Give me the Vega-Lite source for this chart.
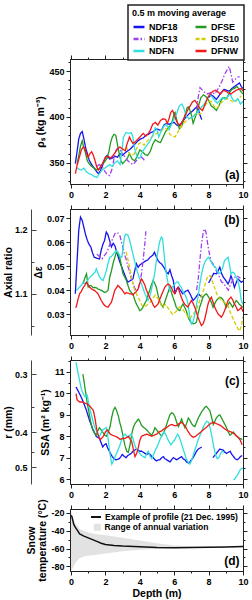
{
"$schema": "https://vega.github.io/schema/vega-lite/v6.json",
"padding": {"left": 2, "top": 3, "right": 5, "bottom": 2},
"config": {
  "view": {"stroke": "#222", "strokeWidth": 1},
  "font": "Liberation Sans",
  "axis": {"labelFont": "Liberation Sans", "labelFontSize": 9, "labelFontWeight": "bold", "labelColor": "#000", "titleFont": "Liberation Sans", "titleFontSize": 10.5, "titleFontWeight": "bold", "titleColor": "#000", "titleLineHeight": 11, "domainColor": "#222", "tickColor": "#222", "grid": false, "labelFlush": false, "labelOverlap": false, "labelPadding": 2, "titlePadding": 3, "minExtent": 0},
  "legend": {"labelFont": "Liberation Sans", "titleFont": "Liberation Sans", "labelFontWeight": "bold", "titleFontWeight": "bold", "labelColor": "#000", "titleColor": "#000", "strokeWidth": 1.5}
},
"datasets": {
"a": [
{"s":"NDF18","d":0.25,"v":349},{"s":"NDF18","d":0.35,"v":362},{"s":"NDF18","d":0.45,"v":376},{"s":"NDF18","d":0.55,"v":382},{"s":"NDF18","d":0.65,"v":384},{"s":"NDF18","d":0.75,"v":376},{"s":"NDF18","d":0.85,"v":366},{"s":"NDF18","d":0.95,"v":360},{"s":"NDF18","d":1.05,"v":353},{"s":"NDF18","d":1.2,"v":348},{"s":"NDF18","d":1.35,"v":344},{"s":"NDF18","d":1.5,"v":340},{"s":"NDF18","d":1.6,"v":338},{"s":"NDF18","d":1.7,"v":341},{"s":"NDF18","d":1.85,"v":348},{"s":"NDF18","d":2.0,"v":356},{"s":"NDF18","d":2.1,"v":358},{"s":"NDF18","d":2.25,"v":354},{"s":"NDF18","d":2.4,"v":355},{"s":"NDF18","d":2.55,"v":357},{"s":"NDF18","d":2.7,"v":356},{"s":"NDF18","d":2.85,"v":360},{"s":"NDF18","d":3.0,"v":358},{"s":"NDF18","d":3.15,"v":361},{"s":"NDF18","d":3.3,"v":363},{"s":"NDF18","d":3.45,"v":365},{"s":"NDF18","d":3.6,"v":368},{"s":"NDF18","d":3.75,"v":371},{"s":"NDF18","d":3.9,"v":374},{"s":"NDF18","d":4.05,"v":376},{"s":"NDF18","d":4.2,"v":377},{"s":"NDF18","d":4.35,"v":380},{"s":"NDF18","d":4.5,"v":381},{"s":"NDF18","d":4.65,"v":383},{"s":"NDF18","d":4.8,"v":384},{"s":"NDF18","d":4.95,"v":387},{"s":"NDF18","d":5.1,"v":386},{"s":"NDF18","d":5.25,"v":385},{"s":"NDF18","d":5.4,"v":391},{"s":"NDF18","d":5.55,"v":393},{"s":"NDF18","d":5.7,"v":392},{"s":"NDF18","d":5.85,"v":393},{"s":"NDF18","d":6.0,"v":394},{"s":"NDF18","d":6.15,"v":391},{"s":"NDF18","d":6.3,"v":390},{"s":"NDF18","d":6.45,"v":394},{"s":"NDF18","d":6.6,"v":398},{"s":"NDF18","d":6.75,"v":401},{"s":"NDF18","d":6.9,"v":404},{"s":"NDF18","d":7.05,"v":406},{"s":"NDF18","d":7.2,"v":409},{"s":"NDF18","d":7.3,"v":411},{"s":"NDF18","d":7.4,"v":408},{"s":"NDF18","d":7.5,"v":402},{"s":"NDF18","d":7.6,"v":397},
{"s":"NDF18","g":2,"d":8.0,"v":421},{"s":"NDF18","g":2,"d":8.15,"v":424},{"s":"NDF18","g":2,"d":8.3,"v":422},{"s":"NDF18","g":2,"d":8.45,"v":419},{"s":"NDF18","g":2,"d":8.6,"v":423},{"s":"NDF18","g":2,"d":8.75,"v":427},{"s":"NDF18","g":2,"d":8.9,"v":430},{"s":"NDF18","g":2,"d":9.05,"v":429},{"s":"NDF18","g":2,"d":9.2,"v":428},{"s":"NDF18","g":2,"d":9.35,"v":431},{"s":"NDF18","g":2,"d":9.5,"v":433},{"s":"NDF18","g":2,"d":9.65,"v":435},{"s":"NDF18","g":2,"d":9.8,"v":437},{"s":"NDF18","g":2,"d":9.9,"v":433},{"s":"NDF18","g":2,"d":10.0,"v":431},
{"s":"DFSE","d":0.35,"v":348},{"s":"DFSE","d":0.45,"v":358},{"s":"DFSE","d":0.55,"v":368},{"s":"DFSE","d":0.65,"v":374},{"s":"DFSE","d":0.75,"v":366},{"s":"DFSE","d":0.85,"v":360},{"s":"DFSE","d":0.95,"v":352},{"s":"DFSE","d":1.05,"v":349},{"s":"DFSE","d":1.2,"v":346},{"s":"DFSE","d":1.35,"v":344},{"s":"DFSE","d":1.5,"v":342},{"s":"DFSE","d":1.65,"v":344},{"s":"DFSE","d":1.8,"v":348},{"s":"DFSE","d":1.95,"v":351},{"s":"DFSE","d":2.1,"v":355},{"s":"DFSE","d":2.2,"v":362},{"s":"DFSE","d":2.3,"v":372},{"s":"DFSE","d":2.4,"v":378},{"s":"DFSE","d":2.5,"v":381},{"s":"DFSE","d":2.6,"v":380},{"s":"DFSE","d":2.7,"v":370},{"s":"DFSE","d":2.8,"v":360},{"s":"DFSE","d":2.9,"v":352},{"s":"DFSE","d":3.0,"v":349},{"s":"DFSE","d":3.1,"v":351},{"s":"DFSE","d":3.25,"v":354},{"s":"DFSE","d":3.4,"v":360},{"s":"DFSE","d":3.55,"v":354},{"s":"DFSE","d":3.7,"v":352},{"s":"DFSE","d":3.85,"v":357},{"s":"DFSE","d":4.0,"v":364},{"s":"DFSE","d":4.15,"v":362},{"s":"DFSE","d":4.3,"v":359},{"s":"DFSE","d":4.45,"v":358},{"s":"DFSE","d":4.6,"v":362},{"s":"DFSE","d":4.75,"v":370},{"s":"DFSE","d":4.9,"v":375},{"s":"DFSE","d":5.05,"v":373},{"s":"DFSE","d":5.2,"v":372},{"s":"DFSE","d":5.35,"v":378},{"s":"DFSE","d":5.5,"v":384},{"s":"DFSE","d":5.65,"v":388},{"s":"DFSE","d":5.8,"v":391},{"s":"DFSE","d":5.9,"v":396},{"s":"DFSE","d":6.0,"v":404},{"s":"DFSE","d":6.05,"v":405},{"s":"DFSE","d":6.15,"v":396},{"s":"DFSE","d":6.3,"v":387},{"s":"DFSE","d":6.45,"v":390},{"s":"DFSE","d":6.6,"v":400},{"s":"DFSE","d":6.75,"v":410},{"s":"DFSE","d":6.85,"v":411},{"s":"DFSE","d":7.0,"v":402},{"s":"DFSE","d":7.1,"v":393},{"s":"DFSE","d":7.25,"v":401},{"s":"DFSE","d":7.4,"v":411},{"s":"DFSE","d":7.55,"v":421},{"s":"DFSE","d":7.7,"v":424},{"s":"DFSE","d":7.85,"v":422},{"s":"DFSE","d":8.0,"v":418},{"s":"DFSE","d":8.15,"v":412},{"s":"DFSE","d":8.3,"v":410},{"s":"DFSE","d":8.45,"v":407},{"s":"DFSE","d":8.6,"v":412},{"s":"DFSE","d":8.75,"v":419},{"s":"DFSE","d":8.9,"v":421},{"s":"DFSE","d":9.05,"v":420},{"s":"DFSE","d":9.2,"v":426},{"s":"DFSE","d":9.35,"v":430},{"s":"DFSE","d":9.5,"v":431},{"s":"DFSE","d":9.65,"v":433},{"s":"DFSE","d":9.8,"v":430},{"s":"DFSE","d":9.9,"v":427},{"s":"DFSE","d":10.0,"v":425},
{"s":"NDF13","d":1.5,"v":346},{"s":"NDF13","d":1.65,"v":348},{"s":"NDF13","d":1.8,"v":346},{"s":"NDF13","d":1.95,"v":341},{"s":"NDF13","d":2.1,"v":337},{"s":"NDF13","d":2.25,"v":336},{"s":"NDF13","d":2.4,"v":344},{"s":"NDF13","d":2.55,"v":360},{"s":"NDF13","d":2.7,"v":367},{"s":"NDF13","d":2.85,"v":365},{"s":"NDF13","d":3.0,"v":359},{"s":"NDF13","d":3.15,"v":356},{"s":"NDF13","d":3.3,"v":352},{"s":"NDF13","d":3.45,"v":350},{"s":"NDF13","d":3.6,"v":348},{"s":"NDF13","d":3.75,"v":351},{"s":"NDF13","d":3.9,"v":355},{"s":"NDF13","d":4.05,"v":357},{"s":"NDF13","d":4.2,"v":354},{"s":"NDF13","d":4.3,"v":352},
{"s":"NDF13","g":2,"d":7.3,"v":408},{"s":"NDF13","g":2,"d":7.4,"v":422},{"s":"NDF13","g":2,"d":7.5,"v":432},{"s":"NDF13","g":2,"d":7.6,"v":430},{"s":"NDF13","g":2,"d":7.75,"v":427},{"s":"NDF13","g":2,"d":7.9,"v":425},{"s":"NDF13","g":2,"d":8.05,"v":426},{"s":"NDF13","g":2,"d":8.2,"v":427},{"s":"NDF13","g":2,"d":8.35,"v":425},{"s":"NDF13","g":2,"d":8.5,"v":429},{"s":"NDF13","g":2,"d":8.65,"v":434},{"s":"NDF13","g":2,"d":8.8,"v":440},{"s":"NDF13","g":2,"d":8.95,"v":447},{"s":"NDF13","g":2,"d":9.1,"v":452},{"s":"NDF13","g":2,"d":9.2,"v":455},{"s":"NDF13","g":2,"d":9.3,"v":447},{"s":"NDF13","g":2,"d":9.4,"v":438},{"s":"NDF13","g":2,"d":9.5,"v":440},{"s":"NDF13","g":2,"d":9.65,"v":443},{"s":"NDF13","g":2,"d":9.8,"v":444},
{"s":"DFS10","d":3.2,"v":368},{"s":"DFS10","d":3.35,"v":361},{"s":"DFS10","d":3.5,"v":358},{"s":"DFS10","d":3.65,"v":359},{"s":"DFS10","d":3.8,"v":365},{"s":"DFS10","d":3.95,"v":371},{"s":"DFS10","d":4.1,"v":372},{"s":"DFS10","d":4.25,"v":369},{"s":"DFS10","d":4.4,"v":373},{"s":"DFS10","d":4.55,"v":376},{"s":"DFS10","d":4.7,"v":378},{"s":"DFS10","d":4.85,"v":381},{"s":"DFS10","d":5.0,"v":382},{"s":"DFS10","d":5.15,"v":384},{"s":"DFS10","d":5.3,"v":386},{"s":"DFS10","d":5.45,"v":388},{"s":"DFS10","d":5.6,"v":386},{"s":"DFS10","d":5.75,"v":381},{"s":"DFS10","d":5.9,"v":379},{"s":"DFS10","d":6.05,"v":378},{"s":"DFS10","d":6.2,"v":383},{"s":"DFS10","d":6.35,"v":388},{"s":"DFS10","d":6.5,"v":392},{"s":"DFS10","d":6.65,"v":395},{"s":"DFS10","d":6.8,"v":397},{"s":"DFS10","d":6.95,"v":399},{"s":"DFS10","d":7.1,"v":400},{"s":"DFS10","d":7.25,"v":404},{"s":"DFS10","d":7.4,"v":403},{"s":"DFS10","d":7.55,"v":404},{"s":"DFS10","d":7.7,"v":410},{"s":"DFS10","d":7.85,"v":414},{"s":"DFS10","d":8.0,"v":417},{"s":"DFS10","d":8.15,"v":417},{"s":"DFS10","d":8.3,"v":412},{"s":"DFS10","d":8.45,"v":409},{"s":"DFS10","d":8.6,"v":412},{"s":"DFS10","d":8.75,"v":416},{"s":"DFS10","d":8.9,"v":418},{"s":"DFS10","d":9.05,"v":420},{"s":"DFS10","d":9.2,"v":419},{"s":"DFS10","d":9.35,"v":417},{"s":"DFS10","d":9.5,"v":416},{"s":"DFS10","d":9.65,"v":418},{"s":"DFS10","d":9.8,"v":421},{"s":"DFS10","d":9.9,"v":423},
{"s":"NDFN","d":0.3,"v":345},{"s":"NDFN","d":0.45,"v":343},{"s":"NDFN","d":0.6,"v":342},{"s":"NDFN","d":0.75,"v":344},{"s":"NDFN","d":0.9,"v":340},{"s":"NDFN","d":1.05,"v":338},{"s":"NDFN","d":1.2,"v":337},{"s":"NDFN","d":1.35,"v":335},{"s":"NDFN","d":1.5,"v":334},{"s":"NDFN","d":1.65,"v":338},{"s":"NDFN","d":1.8,"v":342},{"s":"NDFN","d":1.95,"v":344},{"s":"NDFN","d":2.1,"v":346},{"s":"NDFN","d":2.25,"v":348},{"s":"NDFN","d":2.4,"v":346},{"s":"NDFN","d":2.55,"v":350},{"s":"NDFN","d":2.7,"v":352},{"s":"NDFN","d":2.85,"v":348},{"s":"NDFN","d":2.95,"v":362},{"s":"NDFN","d":3.05,"v":378},{"s":"NDFN","d":3.2,"v":383},{"s":"NDFN","d":3.35,"v":382},{"s":"NDFN","d":3.5,"v":383},{"s":"NDFN","d":3.6,"v":378},{"s":"NDFN","d":3.7,"v":365},{"s":"NDFN","d":3.85,"v":356},{"s":"NDFN","d":4.0,"v":355},{"s":"NDFN","d":4.15,"v":362},{"s":"NDFN","d":4.3,"v":366},{"s":"NDFN","d":4.45,"v":370},{"s":"NDFN","d":4.6,"v":374},{"s":"NDFN","d":4.75,"v":380},{"s":"NDFN","d":4.9,"v":388},{"s":"NDFN","d":5.0,"v":386},{"s":"NDFN","d":5.1,"v":378},{"s":"NDFN","d":5.25,"v":385},{"s":"NDFN","d":5.4,"v":390},{"s":"NDFN","d":5.55,"v":392},{"s":"NDFN","d":5.7,"v":386},{"s":"NDFN","d":5.85,"v":392},{"s":"NDFN","d":6.0,"v":398},{"s":"NDFN","d":6.15,"v":404},{"s":"NDFN","d":6.3,"v":412},{"s":"NDFN","d":6.45,"v":414},{"s":"NDFN","d":6.55,"v":410},{"s":"NDFN","d":6.7,"v":401},{"s":"NDFN","d":6.85,"v":398},{"s":"NDFN","d":7.0,"v":399},{"s":"NDFN","d":7.15,"v":401},{"s":"NDFN","d":7.3,"v":404},{"s":"NDFN","d":7.45,"v":407},{"s":"NDFN","d":7.6,"v":411},{"s":"NDFN","d":7.75,"v":414},{"s":"NDFN","d":7.9,"v":419},{"s":"NDFN","d":8.05,"v":424},{"s":"NDFN","d":8.2,"v":422},{"s":"NDFN","d":8.35,"v":418},{"s":"NDFN","d":8.5,"v":415},{"s":"NDFN","d":8.65,"v":418},{"s":"NDFN","d":8.8,"v":421},{"s":"NDFN","d":8.95,"v":419},{"s":"NDFN","d":9.1,"v":422},{"s":"NDFN","d":9.25,"v":425},{"s":"NDFN","d":9.4,"v":419},{"s":"NDFN","d":9.55,"v":417},{"s":"NDFN","d":9.7,"v":420},{"s":"NDFN","d":9.85,"v":414},{"s":"NDFN","d":10.0,"v":417},
{"s":"DFNW","d":0.25,"v":338},{"s":"DFNW","d":0.35,"v":347},{"s":"DFNW","d":0.5,"v":357},{"s":"DFNW","d":0.6,"v":364},{"s":"DFNW","d":0.7,"v":367},{"s":"DFNW","d":0.8,"v":366},{"s":"DFNW","d":0.9,"v":360},{"s":"DFNW","d":1.0,"v":356},{"s":"DFNW","d":1.1,"v":360},{"s":"DFNW","d":1.2,"v":362},{"s":"DFNW","d":1.3,"v":358},{"s":"DFNW","d":1.4,"v":352},{"s":"DFNW","d":1.5,"v":345},{"s":"DFNW","d":1.6,"v":342},{"s":"DFNW","d":1.75,"v":346},{"s":"DFNW","d":1.9,"v":352},{"s":"DFNW","d":2.0,"v":356},{"s":"DFNW","d":2.15,"v":357},{"s":"DFNW","d":2.3,"v":355},{"s":"DFNW","d":2.45,"v":358},{"s":"DFNW","d":2.6,"v":362},{"s":"DFNW","d":2.75,"v":366},{"s":"DFNW","d":2.85,"v":367},{"s":"DFNW","d":3.0,"v":365},{"s":"DFNW","d":3.15,"v":363},{"s":"DFNW","d":3.25,"v":370},{"s":"DFNW","d":3.4,"v":378},{"s":"DFNW","d":3.5,"v":374},{"s":"DFNW","d":3.6,"v":371},{"s":"DFNW","d":3.75,"v":373},{"s":"DFNW","d":3.9,"v":376},{"s":"DFNW","d":4.05,"v":379},{"s":"DFNW","d":4.2,"v":382},{"s":"DFNW","d":4.35,"v":379},{"s":"DFNW","d":4.5,"v":382},{"s":"DFNW","d":4.6,"v":385},{"s":"DFNW","d":4.75,"v":392},{"s":"DFNW","d":4.9,"v":394},{"s":"DFNW","d":5.05,"v":391},{"s":"DFNW","d":5.2,"v":396},{"s":"DFNW","d":5.35,"v":398},{"s":"DFNW","d":5.5,"v":397},{"s":"DFNW","d":5.6,"v":393},{"s":"DFNW","d":5.7,"v":398},{"s":"DFNW","d":5.8,"v":405},{"s":"DFNW","d":5.9,"v":407},{"s":"DFNW","d":6.0,"v":403},{"s":"DFNW","d":6.1,"v":397},{"s":"DFNW","d":6.2,"v":393},{"s":"DFNW","d":6.35,"v":391},{"s":"DFNW","d":6.5,"v":396},{"s":"DFNW","d":6.65,"v":402},{"s":"DFNW","d":6.8,"v":408},{"s":"DFNW","d":6.9,"v":411},{"s":"DFNW","d":7.05,"v":416},{"s":"DFNW","d":7.2,"v":418},{"s":"DFNW","d":7.35,"v":414},{"s":"DFNW","d":7.5,"v":409},{"s":"DFNW","d":7.65,"v":407},{"s":"DFNW","d":7.8,"v":414},{"s":"DFNW","d":7.95,"v":421},{"s":"DFNW","d":8.1,"v":425},{"s":"DFNW","d":8.25,"v":428},{"s":"DFNW","d":8.4,"v":429},{"s":"DFNW","d":8.55,"v":427},{"s":"DFNW","d":8.7,"v":425},{"s":"DFNW","d":8.85,"v":429},{"s":"DFNW","d":9.0,"v":428},{"s":"DFNW","d":9.15,"v":426},{"s":"DFNW","d":9.3,"v":425},{"s":"DFNW","d":9.45,"v":427},{"s":"DFNW","d":9.6,"v":429},{"s":"DFNW","d":9.75,"v":430},{"s":"DFNW","d":9.9,"v":431},{"s":"DFNW","d":10.0,"v":428}
],
"b": [
{"s":"NDF18","d":0.25,"v":0.0385},{"s":"NDF18","d":0.35,"v":0.052},{"s":"NDF18","d":0.45,"v":0.065},{"s":"NDF18","d":0.55,"v":0.0704},{"s":"NDF18","d":0.65,"v":0.069},{"s":"NDF18","d":0.75,"v":0.066},{"s":"NDF18","d":0.85,"v":0.063},{"s":"NDF18","d":0.95,"v":0.0607},{"s":"NDF18","d":1.05,"v":0.059},{"s":"NDF18","d":1.15,"v":0.058},{"s":"NDF18","d":1.25,"v":0.0555},{"s":"NDF18","d":1.35,"v":0.0537},{"s":"NDF18","d":1.5,"v":0.0533},{"s":"NDF18","d":1.65,"v":0.053},{"s":"NDF18","d":1.75,"v":0.0565},{"s":"NDF18","d":1.85,"v":0.059},{"s":"NDF18","d":1.95,"v":0.0607},{"s":"NDF18","d":2.05,"v":0.0642},{"s":"NDF18","d":2.15,"v":0.063},{"s":"NDF18","d":2.25,"v":0.0605},{"s":"NDF18","d":2.35,"v":0.058},{"s":"NDF18","d":2.45,"v":0.0595},{"s":"NDF18","d":2.55,"v":0.0585},{"s":"NDF18","d":2.65,"v":0.056},{"s":"NDF18","d":2.75,"v":0.0537},{"s":"NDF18","d":2.85,"v":0.0515},{"s":"NDF18","d":2.95,"v":0.0496},{"s":"NDF18","d":3.1,"v":0.0468},{"s":"NDF18","d":3.2,"v":0.045},{"s":"NDF18","d":3.3,"v":0.0433},{"s":"NDF18","d":3.45,"v":0.044},{"s":"NDF18","d":3.6,"v":0.0447},{"s":"NDF18","d":3.7,"v":0.048},{"s":"NDF18","d":3.8,"v":0.051},{"s":"NDF18","d":3.9,"v":0.0495},{"s":"NDF18","d":4.0,"v":0.0505},{"s":"NDF18","d":4.1,"v":0.051},{"s":"NDF18","d":4.2,"v":0.0515},{"s":"NDF18","d":4.3,"v":0.052},{"s":"NDF18","d":4.45,"v":0.0525},{"s":"NDF18","d":4.6,"v":0.0537},{"s":"NDF18","d":4.75,"v":0.0545},{"s":"NDF18","d":4.85,"v":0.0558},{"s":"NDF18","d":4.95,"v":0.054},{"s":"NDF18","d":5.05,"v":0.0524},{"s":"NDF18","d":5.15,"v":0.0515},{"s":"NDF18","d":5.25,"v":0.051},{"s":"NDF18","d":5.35,"v":0.05},{"s":"NDF18","d":5.45,"v":0.0489},{"s":"NDF18","d":5.55,"v":0.0475},{"s":"NDF18","d":5.65,"v":0.0468},{"s":"NDF18","d":5.75,"v":0.0485},{"s":"NDF18","d":5.85,"v":0.046},{"s":"NDF18","d":5.95,"v":0.044},{"s":"NDF18","d":6.05,"v":0.0385},{"s":"NDF18","d":6.15,"v":0.0405},{"s":"NDF18","d":6.25,"v":0.0412},{"s":"NDF18","d":6.35,"v":0.04},{"s":"NDF18","d":6.5,"v":0.0385},{"s":"NDF18","d":6.65,"v":0.0395},{"s":"NDF18","d":6.8,"v":0.04},{"s":"NDF18","d":6.95,"v":0.038},{"s":"NDF18","d":7.1,"v":0.0357},{"s":"NDF18","d":7.25,"v":0.037},{"s":"NDF18","d":7.4,"v":0.0385},{"s":"NDF18","d":7.55,"v":0.0375},{"s":"NDF18","d":7.65,"v":0.037},
{"s":"NDF18","g":2,"d":8.0,"v":0.043},{"s":"NDF18","g":2,"d":8.15,"v":0.045},{"s":"NDF18","g":2,"d":8.3,"v":0.047},{"s":"NDF18","g":2,"d":8.45,"v":0.0468},{"s":"NDF18","g":2,"d":8.55,"v":0.048},{"s":"NDF18","g":2,"d":8.65,"v":0.0496},{"s":"NDF18","g":2,"d":8.75,"v":0.047},{"s":"NDF18","g":2,"d":8.85,"v":0.0455},{"s":"NDF18","g":2,"d":9.0,"v":0.044},{"s":"NDF18","g":2,"d":9.13,"v":0.0426},{"s":"NDF18","g":2,"d":9.22,"v":0.044},{"s":"NDF18","g":2,"d":9.3,"v":0.046},{"s":"NDF18","g":2,"d":9.4,"v":0.044},{"s":"NDF18","g":2,"d":9.5,"v":0.0412},{"s":"NDF18","g":2,"d":9.6,"v":0.043},{"s":"NDF18","g":2,"d":9.7,"v":0.0447},{"s":"NDF18","g":2,"d":9.8,"v":0.044},{"s":"NDF18","g":2,"d":9.9,"v":0.0433},{"s":"NDF18","g":2,"d":10.0,"v":0.0438},
{"s":"DFSE","d":0.7,"v":0.0426},{"s":"DFSE","d":0.8,"v":0.045},{"s":"DFSE","d":0.9,"v":0.0468},{"s":"DFSE","d":1.0,"v":0.0413},{"s":"DFSE","d":1.09,"v":0.042},{"s":"DFSE","d":1.18,"v":0.0418},{"s":"DFSE","d":1.28,"v":0.041},{"s":"DFSE","d":1.37,"v":0.0412},{"s":"DFSE","d":1.47,"v":0.041},{"s":"DFSE","d":1.57,"v":0.0405},{"s":"DFSE","d":1.67,"v":0.0402},{"s":"DFSE","d":1.76,"v":0.0399},{"s":"DFSE","d":1.86,"v":0.0395},{"s":"DFSE","d":1.96,"v":0.039},{"s":"DFSE","d":2.05,"v":0.0393},{"s":"DFSE","d":2.15,"v":0.0399},{"s":"DFSE","d":2.25,"v":0.0454},{"s":"DFSE","d":2.35,"v":0.048},{"s":"DFSE","d":2.44,"v":0.051},{"s":"DFSE","d":2.54,"v":0.0535},{"s":"DFSE","d":2.64,"v":0.0558},{"s":"DFSE","d":2.73,"v":0.055},{"s":"DFSE","d":2.83,"v":0.0537},{"s":"DFSE","d":2.93,"v":0.05},{"s":"DFSE","d":3.02,"v":0.0468},{"s":"DFSE","d":3.12,"v":0.0455},{"s":"DFSE","d":3.22,"v":0.044},{"s":"DFSE","d":3.31,"v":0.042},{"s":"DFSE","d":3.41,"v":0.0399},{"s":"DFSE","d":3.5,"v":0.039},{"s":"DFSE","d":3.6,"v":0.0385},{"s":"DFSE","d":3.7,"v":0.036},{"s":"DFSE","d":3.8,"v":0.0343},{"s":"DFSE","d":3.9,"v":0.033},{"s":"DFSE","d":4.0,"v":0.0315},{"s":"DFSE","d":4.1,"v":0.032},{"s":"DFSE","d":4.19,"v":0.033},{"s":"DFSE","d":4.29,"v":0.0345},{"s":"DFSE","d":4.38,"v":0.0357},{"s":"DFSE","d":4.48,"v":0.038},{"s":"DFSE","d":4.57,"v":0.0399},{"s":"DFSE","d":4.67,"v":0.042},{"s":"DFSE","d":4.77,"v":0.044},{"s":"DFSE","d":4.86,"v":0.043},{"s":"DFSE","d":4.96,"v":0.0412},{"s":"DFSE","d":5.06,"v":0.038},{"s":"DFSE","d":5.15,"v":0.0357},{"s":"DFSE","d":5.25,"v":0.034},{"s":"DFSE","d":5.35,"v":0.0329},{"s":"DFSE","d":5.45,"v":0.035},{"s":"DFSE","d":5.54,"v":0.037},{"s":"DFSE","d":5.64,"v":0.039},{"s":"DFSE","d":5.74,"v":0.0412},{"s":"DFSE","d":5.84,"v":0.039},{"s":"DFSE","d":5.93,"v":0.037},{"s":"DFSE","d":6.03,"v":0.035},{"s":"DFSE","d":6.12,"v":0.0329},{"s":"DFSE","d":6.22,"v":0.032},{"s":"DFSE","d":6.32,"v":0.0315},{"s":"DFSE","d":6.41,"v":0.033},{"s":"DFSE","d":6.51,"v":0.0343},{"s":"DFSE","d":6.6,"v":0.033},{"s":"DFSE","d":6.7,"v":0.0315},{"s":"DFSE","d":6.8,"v":0.029},{"s":"DFSE","d":6.9,"v":0.0274},{"s":"DFSE","d":7.0,"v":0.0265},{"s":"DFSE","d":7.1,"v":0.026},{"s":"DFSE","d":7.2,"v":0.0262},{"s":"DFSE","d":7.29,"v":0.0267},{"s":"DFSE","d":7.38,"v":0.03},{"s":"DFSE","d":7.48,"v":0.0329},{"s":"DFSE","d":7.58,"v":0.035},{"s":"DFSE","d":7.67,"v":0.0371},{"s":"DFSE","d":7.77,"v":0.038},{"s":"DFSE","d":7.87,"v":0.0385},{"s":"DFSE","d":7.97,"v":0.0375},{"s":"DFSE","d":8.06,"v":0.0364},{"s":"DFSE","d":8.16,"v":0.035},{"s":"DFSE","d":8.26,"v":0.0329},{"s":"DFSE","d":8.35,"v":0.0343},{"s":"DFSE","d":8.45,"v":0.0357},{"s":"DFSE","d":8.55,"v":0.0365},{"s":"DFSE","d":8.64,"v":0.0371},{"s":"DFSE","d":8.74,"v":0.0368},{"s":"DFSE","d":8.84,"v":0.036},{"s":"DFSE","d":8.93,"v":0.0345},{"s":"DFSE","d":9.03,"v":0.0329},{"s":"DFSE","d":9.13,"v":0.034},{"s":"DFSE","d":9.22,"v":0.035},{"s":"DFSE","d":9.31,"v":0.034},{"s":"DFSE","d":9.4,"v":0.0329},{"s":"DFSE","d":9.5,"v":0.0343},{"s":"DFSE","d":9.6,"v":0.0357},{"s":"DFSE","d":9.7,"v":0.035},{"s":"DFSE","d":9.8,"v":0.034},{"s":"DFSE","d":9.9,"v":0.0335},{"s":"DFSE","d":10.0,"v":0.0329},
{"s":"NDF13","d":1.5,"v":0.055},{"s":"NDF13","d":1.65,"v":0.054},{"s":"NDF13","d":1.8,"v":0.053},{"s":"NDF13","d":1.95,"v":0.0545},{"s":"NDF13","d":2.1,"v":0.056},{"s":"NDF13","d":2.25,"v":0.059},{"s":"NDF13","d":2.4,"v":0.061},{"s":"NDF13","d":2.55,"v":0.0635},{"s":"NDF13","d":2.7,"v":0.064},{"s":"NDF13","d":2.85,"v":0.0625},{"s":"NDF13","d":3.0,"v":0.058},{"s":"NDF13","d":3.1,"v":0.055},{"s":"NDF13","d":3.2,"v":0.053},{"s":"NDF13","d":3.3,"v":0.05},{"s":"NDF13","d":3.4,"v":0.048},{"s":"NDF13","d":3.5,"v":0.045},{"s":"NDF13","d":3.6,"v":0.043},{"s":"NDF13","d":3.7,"v":0.041},{"s":"NDF13","d":3.8,"v":0.0395},{"s":"NDF13","d":3.9,"v":0.0405},{"s":"NDF13","d":4.0,"v":0.043},{"s":"NDF13","d":4.1,"v":0.047},{"s":"NDF13","d":4.2,"v":0.053},{"s":"NDF13","d":4.3,"v":0.06},{"s":"NDF13","d":4.35,"v":0.0645},
{"s":"NDF13","g":2,"d":7.3,"v":0.04},{"s":"NDF13","g":2,"d":7.4,"v":0.045},{"s":"NDF13","g":2,"d":7.5,"v":0.053},{"s":"NDF13","g":2,"d":7.6,"v":0.06},{"s":"NDF13","g":2,"d":7.7,"v":0.0645},{"s":"NDF13","g":2,"d":7.78,"v":0.0655},{"s":"NDF13","g":2,"d":7.85,"v":0.064},{"s":"NDF13","g":2,"d":7.95,"v":0.059},{"s":"NDF13","g":2,"d":8.05,"v":0.055},{"s":"NDF13","g":2,"d":8.15,"v":0.052},{"s":"NDF13","g":2,"d":8.25,"v":0.051},{"s":"NDF13","g":2,"d":8.35,"v":0.05},{"s":"NDF13","g":2,"d":8.45,"v":0.048},{"s":"NDF13","g":2,"d":8.55,"v":0.047},{"s":"NDF13","g":2,"d":8.65,"v":0.045},{"s":"NDF13","g":2,"d":8.75,"v":0.0435},{"s":"NDF13","g":2,"d":8.85,"v":0.043},{"s":"NDF13","g":2,"d":8.95,"v":0.042},{"s":"NDF13","g":2,"d":9.05,"v":0.041},{"s":"NDF13","g":2,"d":9.15,"v":0.04},{"s":"NDF13","g":2,"d":9.25,"v":0.042},{"s":"NDF13","g":2,"d":9.35,"v":0.0435},{"s":"NDF13","g":2,"d":9.45,"v":0.045},{"s":"NDF13","g":2,"d":9.55,"v":0.0455},{"s":"NDF13","g":2,"d":9.65,"v":0.046},{"s":"NDF13","g":2,"d":9.75,"v":0.0455},{"s":"NDF13","g":2,"d":9.85,"v":0.045},
{"s":"DFS10","d":3.2,"v":0.056},{"s":"DFS10","d":3.3,"v":0.053},{"s":"DFS10","d":3.4,"v":0.0496},{"s":"DFS10","d":3.5,"v":0.046},{"s":"DFS10","d":3.6,"v":0.0426},{"s":"DFS10","d":3.7,"v":0.04},{"s":"DFS10","d":3.8,"v":0.0385},{"s":"DFS10","d":3.9,"v":0.037},{"s":"DFS10","d":4.0,"v":0.0357},{"s":"DFS10","d":4.1,"v":0.034},{"s":"DFS10","d":4.2,"v":0.033},{"s":"DFS10","d":4.35,"v":0.0335},{"s":"DFS10","d":4.5,"v":0.0343},{"s":"DFS10","d":4.6,"v":0.035},{"s":"DFS10","d":4.7,"v":0.036},{"s":"DFS10","d":4.8,"v":0.037},{"s":"DFS10","d":4.9,"v":0.038},{"s":"DFS10","d":5.0,"v":0.037},{"s":"DFS10","d":5.1,"v":0.036},{"s":"DFS10","d":5.2,"v":0.0345},{"s":"DFS10","d":5.3,"v":0.033},{"s":"DFS10","d":5.4,"v":0.0335},{"s":"DFS10","d":5.5,"v":0.034},{"s":"DFS10","d":5.6,"v":0.033},{"s":"DFS10","d":5.7,"v":0.032},{"s":"DFS10","d":5.8,"v":0.031},{"s":"DFS10","d":5.9,"v":0.03},{"s":"DFS10","d":6.0,"v":0.0305},{"s":"DFS10","d":6.1,"v":0.031},{"s":"DFS10","d":6.2,"v":0.032},{"s":"DFS10","d":6.3,"v":0.033},{"s":"DFS10","d":6.4,"v":0.0325},{"s":"DFS10","d":6.5,"v":0.032},{"s":"DFS10","d":6.6,"v":0.031},{"s":"DFS10","d":6.7,"v":0.03},{"s":"DFS10","d":6.8,"v":0.029},{"s":"DFS10","d":6.9,"v":0.028},{"s":"DFS10","d":7.0,"v":0.029},{"s":"DFS10","d":7.1,"v":0.03},{"s":"DFS10","d":7.2,"v":0.031},{"s":"DFS10","d":7.3,"v":0.032},{"s":"DFS10","d":7.4,"v":0.034},{"s":"DFS10","d":7.5,"v":0.036},{"s":"DFS10","d":7.6,"v":0.038},{"s":"DFS10","d":7.7,"v":0.04},{"s":"DFS10","d":7.8,"v":0.0425},{"s":"DFS10","d":7.9,"v":0.045},{"s":"DFS10","d":8.0,"v":0.046},{"s":"DFS10","d":8.1,"v":0.046},{"s":"DFS10","d":8.2,"v":0.044},{"s":"DFS10","d":8.3,"v":0.042},{"s":"DFS10","d":8.4,"v":0.04},{"s":"DFS10","d":8.5,"v":0.038},{"s":"DFS10","d":8.6,"v":0.037},{"s":"DFS10","d":8.7,"v":0.036},{"s":"DFS10","d":8.8,"v":0.0355},{"s":"DFS10","d":8.9,"v":0.035},{"s":"DFS10","d":9.0,"v":0.0345},{"s":"DFS10","d":9.1,"v":0.034},{"s":"DFS10","d":9.2,"v":0.032},{"s":"DFS10","d":9.3,"v":0.03},{"s":"DFS10","d":9.4,"v":0.0285},{"s":"DFS10","d":9.5,"v":0.027},{"s":"DFS10","d":9.6,"v":0.0255},{"s":"DFS10","d":9.7,"v":0.024},{"s":"DFS10","d":9.8,"v":0.023},{"s":"DFS10","d":9.9,"v":0.025},{"s":"DFS10","d":10.0,"v":0.029},
{"s":"NDFN","d":0.3,"v":0.0399},{"s":"NDFN","d":0.4,"v":0.0405},{"s":"NDFN","d":0.5,"v":0.0413},{"s":"NDFN","d":0.6,"v":0.042},{"s":"NDFN","d":0.7,"v":0.0433},{"s":"NDFN","d":0.8,"v":0.0428},{"s":"NDFN","d":0.9,"v":0.043},{"s":"NDFN","d":1.0,"v":0.0445},{"s":"NDFN","d":1.1,"v":0.0454},{"s":"NDFN","d":1.2,"v":0.046},{"s":"NDFN","d":1.3,"v":0.0468},{"s":"NDFN","d":1.4,"v":0.0475},{"s":"NDFN","d":1.47,"v":0.0489},{"s":"NDFN","d":1.57,"v":0.047},{"s":"NDFN","d":1.67,"v":0.0454},{"s":"NDFN","d":1.77,"v":0.0445},{"s":"NDFN","d":1.86,"v":0.044},{"s":"NDFN","d":1.96,"v":0.046},{"s":"NDFN","d":2.05,"v":0.048},{"s":"NDFN","d":2.15,"v":0.051},{"s":"NDFN","d":2.25,"v":0.0537},{"s":"NDFN","d":2.35,"v":0.054},{"s":"NDFN","d":2.45,"v":0.055},{"s":"NDFN","d":2.55,"v":0.0558},{"s":"NDFN","d":2.64,"v":0.0565},{"s":"NDFN","d":2.75,"v":0.0555},{"s":"NDFN","d":2.85,"v":0.054},{"s":"NDFN","d":2.95,"v":0.0537},{"s":"NDFN","d":3.05,"v":0.059},{"s":"NDFN","d":3.12,"v":0.0625},{"s":"NDFN","d":3.2,"v":0.0633},{"s":"NDFN","d":3.3,"v":0.063},{"s":"NDFN","d":3.4,"v":0.061},{"s":"NDFN","d":3.5,"v":0.058},{"s":"NDFN","d":3.6,"v":0.055},{"s":"NDFN","d":3.7,"v":0.052},{"s":"NDFN","d":3.8,"v":0.049},{"s":"NDFN","d":3.9,"v":0.0468},{"s":"NDFN","d":4.0,"v":0.0445},{"s":"NDFN","d":4.1,"v":0.0426},{"s":"NDFN","d":4.2,"v":0.0405},{"s":"NDFN","d":4.3,"v":0.0385},{"s":"NDFN","d":4.4,"v":0.037},{"s":"NDFN","d":4.48,"v":0.0357},{"s":"NDFN","d":4.58,"v":0.0375},{"s":"NDFN","d":4.67,"v":0.0399},{"s":"NDFN","d":4.77,"v":0.0435},{"s":"NDFN","d":4.86,"v":0.0468},{"s":"NDFN","d":4.96,"v":0.052},{"s":"NDFN","d":5.06,"v":0.0565},{"s":"NDFN","d":5.15,"v":0.06},{"s":"NDFN","d":5.25,"v":0.0621},{"s":"NDFN","d":5.32,"v":0.0615},{"s":"NDFN","d":5.4,"v":0.056},{"s":"NDFN","d":5.47,"v":0.051},{"s":"NDFN","d":5.54,"v":0.0468},{"s":"NDFN","d":5.64,"v":0.043},{"s":"NDFN","d":5.74,"v":0.0399},{"s":"NDFN","d":5.85,"v":0.041},{"s":"NDFN","d":5.95,"v":0.0418},{"s":"NDFN","d":6.03,"v":0.0426},{"s":"NDFN","d":6.12,"v":0.0432},{"s":"NDFN","d":6.22,"v":0.0435},{"s":"NDFN","d":6.32,"v":0.042},{"s":"NDFN","d":6.41,"v":0.0412},{"s":"NDFN","d":6.5,"v":0.0395},{"s":"NDFN","d":6.6,"v":0.0385},{"s":"NDFN","d":6.7,"v":0.037},{"s":"NDFN","d":6.8,"v":0.0345},{"s":"NDFN","d":6.9,"v":0.029},{"s":"NDFN","d":7.0,"v":0.026},{"s":"NDFN","d":7.1,"v":0.027},{"s":"NDFN","d":7.2,"v":0.03},{"s":"NDFN","d":7.3,"v":0.034},{"s":"NDFN","d":7.4,"v":0.038},{"s":"NDFN","d":7.5,"v":0.043},{"s":"NDFN","d":7.6,"v":0.047},{"s":"NDFN","d":7.7,"v":0.05},{"s":"NDFN","d":7.8,"v":0.052},{"s":"NDFN","d":7.9,"v":0.053},{"s":"NDFN","d":8.0,"v":0.0537},{"s":"NDFN","d":8.1,"v":0.0525},{"s":"NDFN","d":8.2,"v":0.051},{"s":"NDFN","d":8.3,"v":0.05},{"s":"NDFN","d":8.4,"v":0.0496},{"s":"NDFN","d":8.5,"v":0.048},{"s":"NDFN","d":8.6,"v":0.0468},{"s":"NDFN","d":8.7,"v":0.0475},{"s":"NDFN","d":8.8,"v":0.049},{"s":"NDFN","d":8.93,"v":0.0524},{"s":"NDFN","d":9.03,"v":0.053},{"s":"NDFN","d":9.13,"v":0.0537},{"s":"NDFN","d":9.22,"v":0.0505},{"s":"NDFN","d":9.3,"v":0.0468},{"s":"NDFN","d":9.4,"v":0.0475},{"s":"NDFN","d":9.5,"v":0.047},{"s":"NDFN","d":9.6,"v":0.0455},{"s":"NDFN","d":9.7,"v":0.044},{"s":"NDFN","d":9.8,"v":0.041},{"s":"NDFN","d":9.9,"v":0.0357},{"s":"NDFN","d":10.0,"v":0.034},
{"s":"DFNW","d":0.25,"v":0.0329},{"s":"DFNW","d":0.3,"v":0.033},{"s":"DFNW","d":0.4,"v":0.036},{"s":"DFNW","d":0.5,"v":0.0385},{"s":"DFNW","d":0.6,"v":0.0395},{"s":"DFNW","d":0.7,"v":0.041},{"s":"DFNW","d":0.8,"v":0.042},{"s":"DFNW","d":0.9,"v":0.0433},{"s":"DFNW","d":1.0,"v":0.042},{"s":"DFNW","d":1.09,"v":0.0412},{"s":"DFNW","d":1.2,"v":0.0405},{"s":"DFNW","d":1.3,"v":0.04},{"s":"DFNW","d":1.37,"v":0.0399},{"s":"DFNW","d":1.47,"v":0.0392},{"s":"DFNW","d":1.57,"v":0.0385},{"s":"DFNW","d":1.67,"v":0.037},{"s":"DFNW","d":1.76,"v":0.0357},{"s":"DFNW","d":1.86,"v":0.0345},{"s":"DFNW","d":1.96,"v":0.0336},{"s":"DFNW","d":2.05,"v":0.0332},{"s":"DFNW","d":2.15,"v":0.0329},{"s":"DFNW","d":2.25,"v":0.034},{"s":"DFNW","d":2.35,"v":0.035},{"s":"DFNW","d":2.45,"v":0.0375},{"s":"DFNW","d":2.54,"v":0.0399},{"s":"DFNW","d":2.64,"v":0.041},{"s":"DFNW","d":2.73,"v":0.042},{"s":"DFNW","d":2.83,"v":0.0412},{"s":"DFNW","d":2.93,"v":0.0405},{"s":"DFNW","d":3.03,"v":0.0395},{"s":"DFNW","d":3.12,"v":0.0385},{"s":"DFNW","d":3.22,"v":0.039},{"s":"DFNW","d":3.31,"v":0.0388},{"s":"DFNW","d":3.41,"v":0.0385},{"s":"DFNW","d":3.5,"v":0.0385},{"s":"DFNW","d":3.6,"v":0.038},{"s":"DFNW","d":3.7,"v":0.0388},{"s":"DFNW","d":3.8,"v":0.0395},{"s":"DFNW","d":3.9,"v":0.0405},{"s":"DFNW","d":4.0,"v":0.043},{"s":"DFNW","d":4.1,"v":0.0447},{"s":"DFNW","d":4.2,"v":0.0435},{"s":"DFNW","d":4.3,"v":0.042},{"s":"DFNW","d":4.38,"v":0.04},{"s":"DFNW","d":4.48,"v":0.0385},{"s":"DFNW","d":4.57,"v":0.037},{"s":"DFNW","d":4.67,"v":0.0357},{"s":"DFNW","d":4.77,"v":0.034},{"s":"DFNW","d":4.86,"v":0.0329},{"s":"DFNW","d":4.96,"v":0.0335},{"s":"DFNW","d":5.06,"v":0.0343},{"s":"DFNW","d":5.15,"v":0.036},{"s":"DFNW","d":5.25,"v":0.0378},{"s":"DFNW","d":5.35,"v":0.0395},{"s":"DFNW","d":5.45,"v":0.0412},{"s":"DFNW","d":5.54,"v":0.042},{"s":"DFNW","d":5.64,"v":0.0426},{"s":"DFNW","d":5.74,"v":0.0422},{"s":"DFNW","d":5.84,"v":0.041},{"s":"DFNW","d":5.93,"v":0.0395},{"s":"DFNW","d":6.03,"v":0.0385},{"s":"DFNW","d":6.12,"v":0.04},{"s":"DFNW","d":6.22,"v":0.0412},{"s":"DFNW","d":6.32,"v":0.039},{"s":"DFNW","d":6.41,"v":0.0371},{"s":"DFNW","d":6.5,"v":0.0355},{"s":"DFNW","d":6.6,"v":0.0343},{"s":"DFNW","d":6.7,"v":0.0335},{"s":"DFNW","d":6.8,"v":0.033},{"s":"DFNW","d":6.9,"v":0.0345},{"s":"DFNW","d":7.0,"v":0.0357},{"s":"DFNW","d":7.1,"v":0.0345},{"s":"DFNW","d":7.19,"v":0.033},{"s":"DFNW","d":7.29,"v":0.031},{"s":"DFNW","d":7.38,"v":0.0288},{"s":"DFNW","d":7.48,"v":0.027},{"s":"DFNW","d":7.58,"v":0.0253},{"s":"DFNW","d":7.68,"v":0.026},{"s":"DFNW","d":7.78,"v":0.028},{"s":"DFNW","d":7.87,"v":0.031},{"s":"DFNW","d":7.97,"v":0.0343},{"s":"DFNW","d":8.06,"v":0.036},{"s":"DFNW","d":8.16,"v":0.0371},{"s":"DFNW","d":8.26,"v":0.035},{"s":"DFNW","d":8.35,"v":0.033},{"s":"DFNW","d":8.45,"v":0.0315},{"s":"DFNW","d":8.55,"v":0.0301},{"s":"DFNW","d":8.64,"v":0.0295},{"s":"DFNW","d":8.74,"v":0.0288},{"s":"DFNW","d":8.84,"v":0.03},{"s":"DFNW","d":8.93,"v":0.0315},{"s":"DFNW","d":9.03,"v":0.0335},{"s":"DFNW","d":9.13,"v":0.0357},{"s":"DFNW","d":9.22,"v":0.0365},{"s":"DFNW","d":9.3,"v":0.0371},{"s":"DFNW","d":9.4,"v":0.036},{"s":"DFNW","d":9.5,"v":0.0343},{"s":"DFNW","d":9.6,"v":0.033},{"s":"DFNW","d":9.7,"v":0.0315},{"s":"DFNW","d":9.8,"v":0.032},{"s":"DFNW","d":9.9,"v":0.0329},{"s":"DFNW","d":10.0,"v":0.031}
],
"c": [
{"s":"NDF18","d":0.29,"v":10.3},{"s":"NDF18","d":0.42,"v":10.1},{"s":"NDF18","d":0.55,"v":9.9},{"s":"NDF18","d":0.71,"v":9.6},{"s":"NDF18","d":0.9,"v":9.2},{"s":"NDF18","d":1.07,"v":8.75},{"s":"NDF18","d":1.26,"v":8.35},{"s":"NDF18","d":1.46,"v":8.0},{"s":"NDF18","d":1.65,"v":7.9},{"s":"NDF18","d":1.75,"v":7.7},{"s":"NDF18","d":1.84,"v":7.5},{"s":"NDF18","d":1.94,"v":7.6},{"s":"NDF18","d":2.04,"v":7.65},{"s":"NDF18","d":2.13,"v":7.45},{"s":"NDF18","d":2.23,"v":7.3},{"s":"NDF18","d":2.32,"v":7.15},{"s":"NDF18","d":2.4,"v":7.05},{"s":"NDF18","d":2.5,"v":6.95},{"s":"NDF18","d":2.6,"v":6.9},{"s":"NDF18","d":2.7,"v":6.92},{"s":"NDF18","d":2.8,"v":6.95},{"s":"NDF18","d":2.9,"v":7.05},{"s":"NDF18","d":2.98,"v":7.15},{"s":"NDF18","d":3.1,"v":7.05},{"s":"NDF18","d":3.2,"v":7.0},{"s":"NDF18","d":3.3,"v":7.1},{"s":"NDF18","d":3.4,"v":7.15},{"s":"NDF18","d":3.5,"v":7.2},{"s":"NDF18","d":3.6,"v":7.3},{"s":"NDF18","d":3.7,"v":7.35},{"s":"NDF18","d":3.8,"v":7.4},{"s":"NDF18","d":3.9,"v":7.35},{"s":"NDF18","d":4.0,"v":7.3},{"s":"NDF18","d":4.1,"v":7.3},{"s":"NDF18","d":4.2,"v":7.25},{"s":"NDF18","d":4.3,"v":7.2},{"s":"NDF18","d":4.4,"v":7.15},{"s":"NDF18","d":4.5,"v":7.2},{"s":"NDF18","d":4.6,"v":7.15},{"s":"NDF18","d":4.7,"v":7.05},{"s":"NDF18","d":4.78,"v":7.0},{"s":"NDF18","d":4.88,"v":6.9},{"s":"NDF18","d":4.98,"v":6.85},{"s":"NDF18","d":5.08,"v":6.9},{"s":"NDF18","d":5.17,"v":6.9},{"s":"NDF18","d":5.27,"v":7.0},{"s":"NDF18","d":5.37,"v":7.05},{"s":"NDF18","d":5.46,"v":6.95},{"s":"NDF18","d":5.56,"v":6.9},{"s":"NDF18","d":5.66,"v":6.85},{"s":"NDF18","d":5.75,"v":6.8},{"s":"NDF18","d":5.85,"v":6.9},{"s":"NDF18","d":5.95,"v":7.0},{"s":"NDF18","d":6.05,"v":6.95},{"s":"NDF18","d":6.14,"v":6.9},{"s":"NDF18","d":6.24,"v":6.95},{"s":"NDF18","d":6.33,"v":7.0},{"s":"NDF18","d":6.43,"v":7.05},{"s":"NDF18","d":6.52,"v":6.95},{"s":"NDF18","d":6.62,"v":6.9},{"s":"NDF18","d":6.72,"v":6.8},{"s":"NDF18","d":6.82,"v":6.75},{"s":"NDF18","d":6.91,"v":6.8},{"s":"NDF18","d":7.0,"v":6.9},{"s":"NDF18","d":7.1,"v":7.0},{"s":"NDF18","d":7.2,"v":7.15},{"s":"NDF18","d":7.3,"v":7.3},{"s":"NDF18","d":7.4,"v":7.4},{"s":"NDF18","d":7.5,"v":7.45},{"s":"NDF18","d":7.6,"v":7.5},
{"s":"NDF18","g":2,"d":8.25,"v":7.0},{"s":"NDF18","g":2,"d":8.35,"v":7.1},{"s":"NDF18","g":2,"d":8.45,"v":7.2},{"s":"NDF18","g":2,"d":8.55,"v":7.3},{"s":"NDF18","g":2,"d":8.65,"v":7.4},{"s":"NDF18","g":2,"d":8.75,"v":7.38},{"s":"NDF18","g":2,"d":8.85,"v":7.35},{"s":"NDF18","g":2,"d":8.95,"v":7.25},{"s":"NDF18","g":2,"d":9.05,"v":7.2},{"s":"NDF18","g":2,"d":9.15,"v":7.25},{"s":"NDF18","g":2,"d":9.25,"v":7.3},{"s":"NDF18","g":2,"d":9.35,"v":7.15},{"s":"NDF18","g":2,"d":9.45,"v":7.05},{"s":"NDF18","g":2,"d":9.55,"v":6.95},{"s":"NDF18","g":2,"d":9.65,"v":6.9},{"s":"NDF18","g":2,"d":9.75,"v":6.95},{"s":"NDF18","g":2,"d":9.85,"v":7.05},{"s":"NDF18","g":2,"d":9.95,"v":7.1},
{"s":"DFSE","d":0.69,"v":10.9},{"s":"DFSE","d":0.75,"v":10.6},{"s":"DFSE","d":0.82,"v":10.2},{"s":"DFSE","d":0.88,"v":9.9},{"s":"DFSE","d":0.95,"v":9.5},{"s":"DFSE","d":1.07,"v":9.0},{"s":"DFSE","d":1.16,"v":8.6},{"s":"DFSE","d":1.26,"v":8.3},{"s":"DFSE","d":1.36,"v":8.15},{"s":"DFSE","d":1.46,"v":8.05},{"s":"DFSE","d":1.55,"v":8.25},{"s":"DFSE","d":1.65,"v":8.4},{"s":"DFSE","d":1.75,"v":8.3},{"s":"DFSE","d":1.88,"v":8.15},{"s":"DFSE","d":1.97,"v":8.05},{"s":"DFSE","d":2.07,"v":8.0},{"s":"DFSE","d":2.17,"v":8.2},{"s":"DFSE","d":2.27,"v":8.45},{"s":"DFSE","d":2.37,"v":8.9},{"s":"DFSE","d":2.46,"v":9.2},{"s":"DFSE","d":2.56,"v":9.35},{"s":"DFSE","d":2.65,"v":9.2},{"s":"DFSE","d":2.75,"v":8.95},{"s":"DFSE","d":2.85,"v":8.6},{"s":"DFSE","d":2.95,"v":8.3},{"s":"DFSE","d":3.05,"v":7.9},{"s":"DFSE","d":3.14,"v":7.55},{"s":"DFSE","d":3.24,"v":7.3},{"s":"DFSE","d":3.33,"v":7.25},{"s":"DFSE","d":3.43,"v":7.6},{"s":"DFSE","d":3.53,"v":8.1},{"s":"DFSE","d":3.62,"v":8.4},{"s":"DFSE","d":3.72,"v":8.6},{"s":"DFSE","d":3.82,"v":8.7},{"s":"DFSE","d":3.92,"v":8.8},{"s":"DFSE","d":4.0,"v":8.7},{"s":"DFSE","d":4.1,"v":8.5},{"s":"DFSE","d":4.25,"v":8.4},{"s":"DFSE","d":4.4,"v":8.3},{"s":"DFSE","d":4.55,"v":8.15},{"s":"DFSE","d":4.69,"v":8.05},{"s":"DFSE","d":4.79,"v":8.2},{"s":"DFSE","d":4.88,"v":8.4},{"s":"DFSE","d":4.98,"v":8.3},{"s":"DFSE","d":5.07,"v":8.2},{"s":"DFSE","d":5.17,"v":8.1},{"s":"DFSE","d":5.27,"v":8.0},{"s":"DFSE","d":5.37,"v":8.15},{"s":"DFSE","d":5.46,"v":8.3},{"s":"DFSE","d":5.56,"v":8.55},{"s":"DFSE","d":5.66,"v":8.8},{"s":"DFSE","d":5.75,"v":9.0},{"s":"DFSE","d":5.85,"v":9.1},{"s":"DFSE","d":5.95,"v":9.05},{"s":"DFSE","d":6.05,"v":8.9},{"s":"DFSE","d":6.14,"v":8.65},{"s":"DFSE","d":6.24,"v":8.45},{"s":"DFSE","d":6.33,"v":8.6},{"s":"DFSE","d":6.43,"v":8.8},{"s":"DFSE","d":6.52,"v":8.6},{"s":"DFSE","d":6.62,"v":8.4},{"s":"DFSE","d":6.72,"v":8.6},{"s":"DFSE","d":6.82,"v":8.85},{"s":"DFSE","d":6.91,"v":8.75},{"s":"DFSE","d":7.0,"v":8.6},{"s":"DFSE","d":7.1,"v":8.5},{"s":"DFSE","d":7.2,"v":8.45},{"s":"DFSE","d":7.3,"v":8.65},{"s":"DFSE","d":7.4,"v":8.85},{"s":"DFSE","d":7.5,"v":9.0},{"s":"DFSE","d":7.6,"v":9.15},{"s":"DFSE","d":7.7,"v":9.25},{"s":"DFSE","d":7.78,"v":9.35},{"s":"DFSE","d":7.87,"v":9.4},{"s":"DFSE","d":7.97,"v":9.3},{"s":"DFSE","d":8.07,"v":9.2},{"s":"DFSE","d":8.17,"v":8.9},{"s":"DFSE","d":8.27,"v":8.55},{"s":"DFSE","d":8.36,"v":8.7},{"s":"DFSE","d":8.45,"v":8.85},{"s":"DFSE","d":8.55,"v":8.95},{"s":"DFSE","d":8.65,"v":9.0},{"s":"DFSE","d":8.75,"v":8.85},{"s":"DFSE","d":8.85,"v":8.7},{"s":"DFSE","d":8.95,"v":8.55},{"s":"DFSE","d":9.04,"v":8.4},{"s":"DFSE","d":9.14,"v":8.2},{"s":"DFSE","d":9.24,"v":8.05},{"s":"DFSE","d":9.33,"v":8.1},{"s":"DFSE","d":9.43,"v":8.2},{"s":"DFSE","d":9.53,"v":8.1},{"s":"DFSE","d":9.62,"v":8.0},{"s":"DFSE","d":9.72,"v":7.95},{"s":"DFSE","d":9.82,"v":7.9},{"s":"DFSE","d":9.96,"v":7.85},
{"s":"NDFN","d":0.29,"v":11.45},{"s":"NDFN","d":0.35,"v":11.2},{"s":"NDFN","d":0.42,"v":10.9},{"s":"NDFN","d":0.5,"v":10.6},{"s":"NDFN","d":0.6,"v":10.2},{"s":"NDFN","d":0.7,"v":10.0},{"s":"NDFN","d":0.8,"v":9.85},{"s":"NDFN","d":0.88,"v":9.85},{"s":"NDFN","d":0.95,"v":9.9},{"s":"NDFN","d":1.05,"v":9.4},{"s":"NDFN","d":1.15,"v":9.1},{"s":"NDFN","d":1.25,"v":8.8},{"s":"NDFN","d":1.35,"v":8.5},{"s":"NDFN","d":1.45,"v":8.3},{"s":"NDFN","d":1.55,"v":8.1},{"s":"NDFN","d":1.65,"v":8.0},{"s":"NDFN","d":1.75,"v":8.15},{"s":"NDFN","d":1.85,"v":8.3},{"s":"NDFN","d":1.95,"v":8.35},{"s":"NDFN","d":2.05,"v":8.4},{"s":"NDFN","d":2.12,"v":8.1},{"s":"NDFN","d":2.2,"v":7.6},{"s":"NDFN","d":2.28,"v":7.1},{"s":"NDFN","d":2.37,"v":6.7},{"s":"NDFN","d":2.46,"v":6.85},{"s":"NDFN","d":2.56,"v":7.05},{"s":"NDFN","d":2.65,"v":7.2},{"s":"NDFN","d":2.75,"v":7.4},{"s":"NDFN","d":2.85,"v":7.6},{"s":"NDFN","d":2.95,"v":7.85},{"s":"NDFN","d":3.05,"v":8.0},{"s":"NDFN","d":3.14,"v":8.1},{"s":"NDFN","d":3.24,"v":8.0},{"s":"NDFN","d":3.33,"v":7.95},{"s":"NDFN","d":3.43,"v":8.05},{"s":"NDFN","d":3.5,"v":8.1},{"s":"NDFN","d":3.6,"v":7.9},{"s":"NDFN","d":3.7,"v":7.6},{"s":"NDFN","d":3.8,"v":7.4},{"s":"NDFN","d":3.9,"v":7.3},{"s":"NDFN","d":4.0,"v":7.2},{"s":"NDFN","d":4.1,"v":7.1},{"s":"NDFN","d":4.2,"v":7.05},{"s":"NDFN","d":4.3,"v":7.0},{"s":"NDFN","d":4.4,"v":7.2},{"s":"NDFN","d":4.5,"v":7.3},{"s":"NDFN","d":4.6,"v":7.05},{"s":"NDFN","d":4.7,"v":6.95},{"s":"NDFN","d":4.8,"v":7.15},{"s":"NDFN","d":4.9,"v":7.35},{"s":"NDFN","d":5.0,"v":7.5},{"s":"NDFN","d":5.1,"v":7.7},{"s":"NDFN","d":5.2,"v":7.9},{"s":"NDFN","d":5.3,"v":8.05},{"s":"NDFN","d":5.4,"v":8.2},{"s":"NDFN","d":5.5,"v":8.1},{"s":"NDFN","d":5.6,"v":7.9},{"s":"NDFN","d":5.7,"v":7.75},{"s":"NDFN","d":5.8,"v":7.6},{"s":"NDFN","d":5.9,"v":7.7},{"s":"NDFN","d":6.0,"v":7.8},{"s":"NDFN","d":6.1,"v":7.95},{"s":"NDFN","d":6.2,"v":8.1},{"s":"NDFN","d":6.3,"v":7.95},{"s":"NDFN","d":6.4,"v":7.7},{"s":"NDFN","d":6.5,"v":7.45},{"s":"NDFN","d":6.6,"v":7.2},{"s":"NDFN","d":6.7,"v":6.95},{"s":"NDFN","d":6.8,"v":6.8},{"s":"NDFN","d":6.9,"v":6.7},{"s":"NDFN","d":7.0,"v":6.85},{"s":"NDFN","d":7.1,"v":7.1},{"s":"NDFN","d":7.2,"v":7.35},{"s":"NDFN","d":7.3,"v":7.6},{"s":"NDFN","d":7.4,"v":7.85},{"s":"NDFN","d":7.5,"v":8.05},{"s":"NDFN","d":7.6,"v":8.25},{"s":"NDFN","d":7.7,"v":8.45},{"s":"NDFN","d":7.8,"v":8.6},{"s":"NDFN","d":7.9,"v":8.7},{"s":"NDFN","d":8.0,"v":8.65},{"s":"NDFN","d":8.1,"v":8.35},{"s":"NDFN","d":8.2,"v":7.95},{"s":"NDFN","d":8.3,"v":7.5},{"s":"NDFN","d":8.4,"v":7.15},{"s":"NDFN","d":8.5,"v":6.95},{"s":"NDFN","d":8.6,"v":7.0},{"s":"NDFN","d":8.7,"v":7.2},{"s":"NDFN","d":8.8,"v":7.3},{"s":"NDFN","d":8.9,"v":7.25},
{"s":"NDFN","g":2,"d":9.45,"v":5.95},{"s":"NDFN","g":2,"d":9.55,"v":6.05},{"s":"NDFN","g":2,"d":9.65,"v":6.15},{"s":"NDFN","g":2,"d":9.75,"v":6.3},{"s":"NDFN","g":2,"d":9.85,"v":6.45},{"s":"NDFN","g":2,"d":9.95,"v":6.5},{"s":"NDFN","g":2,"d":10.0,"v":6.52},
{"s":"DFNW","d":0.29,"v":9.99},{"s":"DFNW","d":0.35,"v":9.7},{"s":"DFNW","d":0.5,"v":9.6},{"s":"DFNW","d":0.69,"v":9.6},{"s":"DFNW","d":0.8,"v":9.55},{"s":"DFNW","d":0.96,"v":9.5},{"s":"DFNW","d":1.1,"v":9.4},{"s":"DFNW","d":1.2,"v":9.3},{"s":"DFNW","d":1.3,"v":9.2},{"s":"DFNW","d":1.4,"v":8.8},{"s":"DFNW","d":1.5,"v":8.3},{"s":"DFNW","d":1.6,"v":8.0},{"s":"DFNW","d":1.69,"v":7.85},{"s":"DFNW","d":1.78,"v":7.9},{"s":"DFNW","d":1.88,"v":8.0},{"s":"DFNW","d":2.0,"v":8.2},{"s":"DFNW","d":2.1,"v":8.3},{"s":"DFNW","d":2.2,"v":8.2},{"s":"DFNW","d":2.27,"v":8.1},{"s":"DFNW","d":2.4,"v":8.05},{"s":"DFNW","d":2.56,"v":8.0},{"s":"DFNW","d":2.7,"v":7.95},{"s":"DFNW","d":2.85,"v":7.85},{"s":"DFNW","d":3.0,"v":7.9},{"s":"DFNW","d":3.14,"v":7.9},{"s":"DFNW","d":3.25,"v":7.95},{"s":"DFNW","d":3.33,"v":8.0},{"s":"DFNW","d":3.45,"v":7.85},{"s":"DFNW","d":3.53,"v":7.75},{"s":"DFNW","d":3.62,"v":7.4},{"s":"DFNW","d":3.72,"v":7.05},{"s":"DFNW","d":3.82,"v":7.2},{"s":"DFNW","d":3.92,"v":7.5},{"s":"DFNW","d":4.0,"v":7.8},{"s":"DFNW","d":4.1,"v":8.0},{"s":"DFNW","d":4.25,"v":8.05},{"s":"DFNW","d":4.4,"v":8.1},{"s":"DFNW","d":4.55,"v":8.05},{"s":"DFNW","d":4.69,"v":8.0},{"s":"DFNW","d":4.84,"v":8.05},{"s":"DFNW","d":4.98,"v":8.1},{"s":"DFNW","d":5.12,"v":8.2},{"s":"DFNW","d":5.27,"v":8.25},{"s":"DFNW","d":5.41,"v":8.35},{"s":"DFNW","d":5.56,"v":8.4},{"s":"DFNW","d":5.7,"v":8.5},{"s":"DFNW","d":5.85,"v":8.55},{"s":"DFNW","d":6.0,"v":8.5},{"s":"DFNW","d":6.14,"v":8.5},{"s":"DFNW","d":6.3,"v":8.6},{"s":"DFNW","d":6.43,"v":8.65},{"s":"DFNW","d":6.55,"v":8.55},{"s":"DFNW","d":6.62,"v":8.5},{"s":"DFNW","d":6.72,"v":8.35},{"s":"DFNW","d":6.82,"v":8.2},{"s":"DFNW","d":6.95,"v":8.05},{"s":"DFNW","d":7.1,"v":7.95},{"s":"DFNW","d":7.25,"v":8.0},{"s":"DFNW","d":7.4,"v":8.1},{"s":"DFNW","d":7.55,"v":8.2},{"s":"DFNW","d":7.69,"v":8.3},{"s":"DFNW","d":7.84,"v":8.4},{"s":"DFNW","d":7.98,"v":8.5},{"s":"DFNW","d":8.12,"v":8.6},{"s":"DFNW","d":8.27,"v":8.65},{"s":"DFNW","d":8.42,"v":8.6},{"s":"DFNW","d":8.56,"v":8.55},{"s":"DFNW","d":8.7,"v":8.5},{"s":"DFNW","d":8.85,"v":8.4},{"s":"DFNW","d":9.0,"v":8.3},{"s":"DFNW","d":9.14,"v":8.25},{"s":"DFNW","d":9.3,"v":8.2},{"s":"DFNW","d":9.43,"v":8.15},{"s":"DFNW","d":9.58,"v":8.05},{"s":"DFNW","d":9.72,"v":7.95},{"s":"DFNW","d":9.85,"v":7.8},{"s":"DFNW","d":9.95,"v":7.6}
],
"band": [
{"d":0,"hi":-18,"lo":-86},{"d":0.1,"hi":-25,"lo":-82},{"d":0.2,"hi":-30,"lo":-78},{"d":0.3,"hi":-33,"lo":-75},{"d":0.5,"hi":-38,"lo":-71},{"d":0.75,"hi":-40,"lo":-69},{"d":1,"hi":-42,"lo":-68},{"d":1.5,"hi":-44,"lo":-67},{"d":2,"hi":-45,"lo":-65.5},{"d":3,"hi":-48,"lo":-63},{"d":4,"hi":-51,"lo":-61.5},{"d":5,"hi":-54,"lo":-60.5},{"d":6,"hi":-56.5,"lo":-60},{"d":7,"hi":-57.5,"lo":-59.5},{"d":8,"hi":-58,"lo":-59},{"d":9,"hi":-58.2,"lo":-58.8},{"d":10,"hi":-58.3,"lo":-58.6}
],
"prof": [
{"d":0,"v":-22.6},{"d":0.05,"v":-24},{"d":0.1,"v":-28},{"d":0.15,"v":-32},{"d":0.2,"v":-34.5},{"d":0.3,"v":-37.5},{"d":0.4,"v":-40.5},{"d":0.5,"v":-43.5},{"d":0.75,"v":-46},{"d":1.0,"v":-48},{"d":1.25,"v":-50},{"d":1.5,"v":-52},{"d":1.75,"v":-54},{"d":2.0,"v":-55.5},{"d":2.5,"v":-56.5},{"d":3.0,"v":-57.2},{"d":4.0,"v":-58},{"d":5.0,"v":-58.8},{"d":6.0,"v":-59},{"d":7.0,"v":-58.8},{"d":8.0,"v":-58.5},{"d":9.0,"v":-58.2},{"d":10.0,"v":-57.6}
]
},
"bounds": "flush",
"spacing": 25,
"resolve": {"scale": {"color": "independent", "strokeDash": "independent", "stroke": "independent", "fill": "independent"}, "legend": {"color": "independent", "strokeDash": "independent", "stroke": "independent", "fill": "independent"}},
"vconcat": [
{
 "width": 173, "height": 125,
 "layer": [
  {"data": {"name": "a"}, "mark": {"type": "line", "strokeWidth": 1.3, "clip": true},
   "encoding": {
    "x": {"field": "d", "type": "quantitative", "scale": {"domain": [-0.06, 10], "nice": false, "zero": false},
          "axis": {"orient": "bottom", "title": null, "values": [0,1,2,3,4,5,6,7,8,9,10], "labelExpr": "datum.value % 2 === 0 ? datum.label : ''", "tickSize": 4, "tickDash": {"condition": {"test": "datum.value % 2 === 0", "value": [4, 0]}, "value": [2, 10]}}},
    "y": {"field": "v", "type": "quantitative", "scale": {"domain": [326.8, 463.1], "nice": false, "zero": false},
          "axis": {"orient": "left", "title": "ρₛ (kg m⁻³)", "values": [330,340,350,360,370,380,390,400,410,420,430,440,450,460], "labelExpr": "datum.value % 50 === 0 ? datum.label : ''", "tickSize": 4, "tickDash": {"condition": {"test": "datum.value % 50 === 0", "value": [4, 0]}, "value": [2, 10]}}},
    "color": {"field": "s", "type": "nominal", "scale": {"domain": ["NDF18","DFSE","NDF13","DFS10","NDFN","DFNW"], "range": ["#1414ee","#249a24","#a040f0","#d6cc00","#30dede","#f01818"]},
              "legend": {"title": "0.5 m moving average", "orient": "none", "legendX": 58, "legendY": -54, "columns": 2, "direction": "horizontal", "symbolType": "stroke", "symbolStrokeWidth": 2.5, "symbolSize": 120, "labelFontSize": 9, "titleFontSize": 9, "strokeColor": "#222", "fillColor": "white", "padding": 4, "rowPadding": 0, "columnPadding": 12, "titlePadding": 2, "labelOffset": 3}},
    "strokeDash": {"field": "s", "type": "nominal", "scale": {"domain": ["NDF18","DFSE","NDF13","DFS10","NDFN","DFNW"], "range": [[1,0],[1,0],[5,2,1.5,2],[4,2],[1,0],[1,0]]},
              "legend": {"title": "0.5 m moving average", "orient": "none", "legendX": 58, "legendY": -54, "columns": 2, "direction": "horizontal", "symbolType": "stroke", "symbolStrokeWidth": 2.5, "symbolSize": 120, "labelFontSize": 9, "titleFontSize": 9, "strokeColor": "#222", "fillColor": "white", "padding": 4, "rowPadding": 0, "columnPadding": 12, "titlePadding": 2, "labelOffset": 3}},
    "detail": {"field": "g", "type": "nominal"}
   }},
  {"data": {"values": [{"d": 9.8, "v": 332, "t": "(a)"}]}, "mark": {"type": "text", "align": "right", "baseline": "alphabetic", "fontSize": 12, "fontWeight": "bold", "font": "Liberation Sans"},
   "encoding": {
    "x": {"field": "d", "type": "quantitative", "scale": {"domain": [-0.06, 10], "nice": false, "zero": false},
          "axis": {"orient": "top", "title": null, "labels": false, "values": [0,1,2,3,4,5,6,7,8,9,10], "tickSize": 4, "tickDash": {"condition": {"test": "datum.value % 2 === 0", "value": [4, 0]}, "value": [2, 10]}}},
    "y": {"field": "v", "type": "quantitative", "scale": {"domain": [326.8, 463.1], "nice": false, "zero": false},
          "axis": {"orient": "right", "title": null, "labels": false, "values": [330,340,350,360,370,380,390,400,410,420,430,440,450,460], "tickSize": 4, "tickDash": {"condition": {"test": "datum.value % 50 === 0", "value": [4, 0]}, "value": [2, 10]}}},
    "text": {"field": "t"}
   }}
 ],
 "resolve": {"axis": {"x": "independent", "y": "independent"}}
},
{
 "width": 173, "height": 126,
 "layer": [
  {"data": {"name": "b"}, "mark": {"type": "line", "strokeWidth": 1.3, "clip": true},
   "encoding": {
    "x": {"field": "d", "type": "quantitative", "scale": {"domain": [-0.06, 10], "nice": false, "zero": false},
          "axis": {"orient": "bottom", "title": null, "values": [0,1,2,3,4,5,6,7,8,9,10], "labelExpr": "datum.value % 2 === 0 ? datum.label : ''", "tickSize": 4, "tickDash": {"condition": {"test": "datum.value % 2 === 0", "value": [4, 0]}, "value": [2, 10]}}},
    "y": {"field": "v", "type": "quantitative", "scale": {"domain": [0.02137, 0.07375], "nice": false, "zero": false},
          "axis": {"orient": "left", "title": "Δε", "values": [0.025,0.03,0.035,0.04,0.045,0.05,0.055,0.06,0.065,0.07], "labelExpr": "abs(datum.value*100 - round(datum.value*100)) < 0.001 ? format(datum.value, '.2f') : ''", "tickSize": 4, "tickDash": {"condition": {"test": "abs(datum.value*100 - round(datum.value*100)) < 0.001", "value": [4, 0]}, "value": [2, 10]}}},
    "color": {"field": "s", "type": "nominal", "scale": {"domain": ["NDF18","DFSE","NDF13","DFS10","NDFN","DFNW"], "range": ["#1414ee","#249a24","#a040f0","#d6cc00","#30dede","#f01818"]}, "legend": null},
    "strokeDash": {"field": "s", "type": "nominal", "scale": {"domain": ["NDF18","DFSE","NDF13","DFS10","NDFN","DFNW"], "range": [[1,0],[1,0],[5,2,1.5,2],[4,2],[1,0],[1,0]]}, "legend": null},
    "detail": {"field": "g", "type": "nominal"}
   }},
  {"data": {"values": [{"ar": 1.1}, {"ar": 1.2}]}, "mark": {"type": "point", "opacity": 0},
   "encoding": {
    "y": {"field": "ar", "type": "quantitative", "scale": {"domain": [1.0355, 1.2323], "nice": false, "zero": false},
          "axis": {"orient": "left", "offset": 39, "title": "Axial ratio", "titlePadding": 1, "values": [1.05, 1.1, 1.15, 1.2], "labelExpr": "abs(datum.value*10 - round(datum.value*10)) < 0.001 ? format(datum.value, '.1f') : ''", "tickSize": -5, "labelPadding": 9, "domainColor": "#444", "tickColor": "#444", "tickDash": {"condition": {"test": "abs(datum.value*10 - round(datum.value*10)) < 0.001", "value": [5, 0]}, "value": [3, 10]}}}
   }},
  {"data": {"values": [{"d": 9.8, "v": 0.0675, "t": "(b)"}]}, "mark": {"type": "text", "align": "right", "baseline": "alphabetic", "fontSize": 12, "fontWeight": "bold", "font": "Liberation Sans"},
   "encoding": {
    "x": {"field": "d", "type": "quantitative", "scale": {"domain": [-0.06, 10], "nice": false, "zero": false},
          "axis": {"orient": "top", "title": null, "labels": false, "values": [0,1,2,3,4,5,6,7,8,9,10], "tickSize": 4, "tickDash": {"condition": {"test": "datum.value % 2 === 0", "value": [4, 0]}, "value": [2, 10]}}},
    "y": {"field": "v", "type": "quantitative", "scale": {"domain": [0.02137, 0.07375], "nice": false, "zero": false},
          "axis": {"orient": "right", "title": null, "labels": false, "values": [0.025,0.03,0.035,0.04,0.045,0.05,0.055,0.06,0.065,0.07], "tickSize": 4, "tickDash": {"condition": {"test": "abs(datum.value*100 - round(datum.value*100)) < 0.001", "value": [4, 0]}, "value": [2, 10]}}},
    "text": {"field": "t"}
   }}
 ],
 "resolve": {"scale": {"y": "independent"}, "axis": {"x": "independent", "y": "independent"}}
},
{
 "width": 173, "height": 124,
 "layer": [
  {"data": {"name": "c"}, "mark": {"type": "line", "strokeWidth": 1.3, "clip": true},
   "encoding": {
    "x": {"field": "d", "type": "quantitative", "scale": {"domain": [-0.06, 10], "nice": false, "zero": false},
          "axis": {"orient": "bottom", "title": null, "values": [0,1,2,3,4,5,6,7,8,9,10], "labelExpr": "datum.value % 2 === 0 ? datum.label : ''", "tickSize": 4, "tickDash": {"condition": {"test": "datum.value % 2 === 0", "value": [4, 0]}, "value": [2, 10]}}},
    "y": {"field": "v", "type": "quantitative", "scale": {"domain": [5.77, 11.56], "nice": false, "zero": false},
          "axis": {"orient": "left", "title": "SSA (m² kg⁻¹)", "values": [6,6.5,7,7.5,8,8.5,9,9.5,10,10.5,11,11.5], "labelExpr": "datum.value % 1 === 0 ? format(datum.value, 'd') : ''", "tickSize": 4, "tickDash": {"condition": {"test": "datum.value % 1 === 0", "value": [4, 0]}, "value": [2, 10]}}},
    "color": {"field": "s", "type": "nominal", "scale": {"domain": ["NDF18","DFSE","NDF13","DFS10","NDFN","DFNW"], "range": ["#1414ee","#249a24","#a040f0","#d6cc00","#30dede","#f01818"]}, "legend": null},
    "strokeDash": {"field": "s", "type": "nominal", "scale": {"domain": ["NDF18","DFSE","NDF13","DFS10","NDFN","DFNW"], "range": [[1,0],[1,0],[5,2,1.5,2],[4,2],[1,0],[1,0]]}, "legend": null},
    "detail": {"field": "g", "type": "nominal"}
   }},
  {"data": {"values": [{"r": 0.3}, {"r": 0.5}]}, "mark": {"type": "point", "opacity": 0},
   "encoding": {
    "y": {"field": "r", "type": "quantitative", "scale": {"type": "pow", "exponent": -1, "domain": [0.283, 0.567], "reverse": true, "nice": false, "zero": false},
          "axis": {"orient": "left", "offset": 39, "title": "r (mm)", "titlePadding": 1, "values": [0.3, 0.35, 0.4, 0.45, 0.5], "labelExpr": "abs(datum.value*10 - round(datum.value*10)) < 0.001 ? format(datum.value, '.1f') : ''", "tickSize": -5, "labelPadding": 9, "domainColor": "#444", "tickColor": "#444", "tickDash": {"condition": {"test": "abs(datum.value*10 - round(datum.value*10)) < 0.001", "value": [5, 0]}, "value": [3, 10]}}}
   }},
  {"data": {"values": [{"d": 9.8, "v": 10.39, "t": "(c)"}]}, "mark": {"type": "text", "align": "right", "baseline": "alphabetic", "fontSize": 12, "fontWeight": "bold", "font": "Liberation Sans"},
   "encoding": {
    "x": {"field": "d", "type": "quantitative", "scale": {"domain": [-0.06, 10], "nice": false, "zero": false},
          "axis": {"orient": "top", "title": null, "labels": false, "values": [0,1,2,3,4,5,6,7,8,9,10], "tickSize": 4, "tickDash": {"condition": {"test": "datum.value % 2 === 0", "value": [4, 0]}, "value": [2, 10]}}},
    "y": {"field": "v", "type": "quantitative", "scale": {"domain": [5.77, 11.56], "nice": false, "zero": false},
          "axis": {"orient": "right", "title": null, "labels": false, "values": [6,6.5,7,7.5,8,8.5,9,9.5,10,10.5,11,11.5], "tickSize": 4, "tickDash": {"condition": {"test": "datum.value % 1 === 0", "value": [4, 0]}, "value": [2, 10]}}},
    "text": {"field": "t"}
   }}
 ],
 "resolve": {"scale": {"y": "independent"}, "axis": {"x": "independent", "y": "independent"}}
},
{
 "width": 173, "height": 62,
 "layer": [
  {"data": {"name": "band"}, "mark": {"type": "area", "opacity": 1},
   "encoding": {
    "x": {"field": "d", "type": "quantitative", "scale": {"domain": [-0.06, 10], "nice": false, "zero": false},
          "axis": {"orient": "bottom", "title": "Depth (m)", "titlePadding": 2, "values": [0,1,2,3,4,5,6,7,8,9,10], "labelExpr": "datum.value % 2 === 0 ? datum.label : ''", "tickSize": 4, "tickDash": {"condition": {"test": "datum.value % 2 === 0", "value": [4, 0]}, "value": [2, 10]}}},
    "y": {"field": "hi", "type": "quantitative", "scale": {"domain": [-85.3, -15.5], "nice": false, "zero": false},
          "axis": {"orient": "left", "title": ["Snow", "temperature (°C)"], "titlePadding": 3, "values": [-80,-70,-60,-50,-40,-30,-20], "labelExpr": "datum.value % 20 === 0 ? '-' + format(abs(datum.value), 'd') : ''", "tickSize": 4, "tickDash": {"condition": {"test": "datum.value % 20 === 0", "value": [4, 0]}, "value": [2, 10]}}},
    "y2": {"field": "lo"},
    "fill": {"datum": "Range of annual variation", "type": "nominal", "scale": {"range": ["#e2e2e2"]},
             "legend": {"title": null, "orient": "none", "legendX": 23, "legendY": 14, "symbolType": "square", "symbolSize": 49, "symbolStrokeWidth": 0, "labelFontSize": 8.5, "padding": 0, "labelOffset": 3}}
   }},
  {"data": {"name": "prof"}, "mark": {"type": "line", "strokeWidth": 1.5},
   "encoding": {
    "x": {"field": "d", "type": "quantitative", "scale": {"domain": [-0.06, 10], "nice": false, "zero": false}, "axis": null},
    "y": {"field": "v", "type": "quantitative", "scale": {"domain": [-85.3, -15.5], "nice": false, "zero": false}, "axis": null},
    "stroke": {"datum": "Example of profile (21 Dec. 1995)", "type": "nominal", "scale": {"range": ["#111"]},
             "legend": {"title": null, "orient": "none", "legendX": 20, "legendY": 2, "symbolType": "stroke", "symbolSize": 100, "symbolStrokeWidth": 2, "labelFontSize": 8.5, "padding": 0, "labelOffset": 3}}
   }},
  {"data": {"values": [{"d": 9.8, "v": -78.6, "t": "(d)"}]}, "mark": {"type": "text", "align": "right", "baseline": "alphabetic", "fontSize": 12, "fontWeight": "bold", "font": "Liberation Sans"},
   "encoding": {
    "x": {"field": "d", "type": "quantitative", "scale": {"domain": [-0.06, 10], "nice": false, "zero": false},
          "axis": {"orient": "top", "title": null, "labels": false, "values": [0,1,2,3,4,5,6,7,8,9,10], "tickSize": 4, "tickDash": {"condition": {"test": "datum.value % 2 === 0", "value": [4, 0]}, "value": [2, 10]}}},
    "y": {"field": "v", "type": "quantitative", "scale": {"domain": [-85.3, -15.5], "nice": false, "zero": false},
          "axis": {"orient": "right", "title": null, "labels": false, "values": [-80,-70,-60,-50,-40,-30,-20], "tickSize": 4, "tickDash": {"condition": {"test": "datum.value % 20 === 0", "value": [4, 0]}, "value": [2, 10]}}},
    "text": {"field": "t"}
   }}
 ],
 "resolve": {"axis": {"x": "independent", "y": "independent"}}
}
]
}
